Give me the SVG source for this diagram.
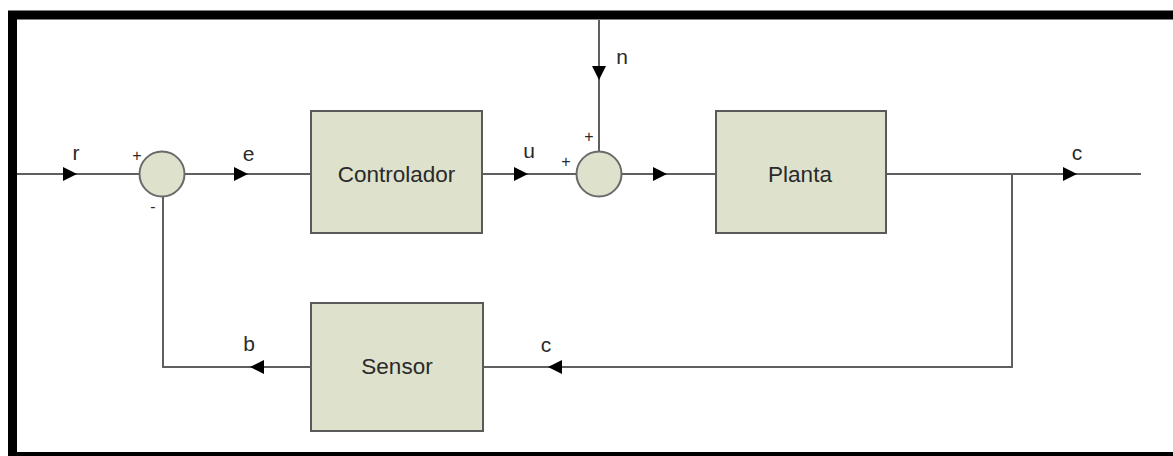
<svg xmlns="http://www.w3.org/2000/svg" width="1173" height="456" viewBox="0 0 1173 456">
  <defs>
    <style>
      .blk { fill: #dee1cb; stroke: #5a5a5a; stroke-width: 2; }
      .sum { fill: #dee1cb; stroke: #6a6a6a; stroke-width: 2; }
      .wire { fill: none; stroke: #5f5f5f; stroke-width: 2; }
      .lbl { font-family: "Liberation Sans", Arial, sans-serif; font-size: 22.5px; fill: #2a2a2a; text-anchor: middle; }
      .sig { font-family: "Liberation Sans", Arial, sans-serif; font-size: 21px; fill: #2a2a2a; text-anchor: middle; }
      .sgn { font-family: "Liberation Sans", Arial, sans-serif; font-size: 16px; fill: #2a2a2a; text-anchor: middle; }
      .ah { fill: #000000; }
    </style>
  </defs>
  <rect width="1173" height="456" fill="#ffffff"/>
  <rect x="12.5" y="15" width="1200" height="441.5" fill="none" stroke="#000000" stroke-width="9"/>

  <g id="connectors">
    <path class="wire" d="M17 174 H140"/>
    <path class="wire" d="M185 174 H311"/>
    <path class="wire" d="M482 174 H577"/>
    <path class="wire" d="M599 20 V151"/>
    <path class="wire" d="M621 174 H716"/>
    <path class="wire" d="M886 174 H1141"/>
    <path class="wire" d="M1012 174 V367 H483"/>
    <path class="wire" d="M311 367 H163 V197"/>
    <polygon class="ah" points="63,167 77,174 63,181"/>
    <polygon class="ah" points="234,167 248,174 234,181"/>
    <polygon class="ah" points="514,167 528,174 514,181"/>
    <polygon class="ah" points="592,66 606,66 599,80"/>
    <polygon class="ah" points="653,167 667,174 653,181"/>
    <polygon class="ah" points="1063,167 1077,174 1063,181"/>
    <polygon class="ah" points="562,360 548,367 562,374"/>
    <polygon class="ah" points="264,360 250,367 264,374"/>
    <text class="sig" x="76" y="160">r</text>
    <text class="sig" x="248.5" y="161">e</text>
    <text class="sig" x="529" y="158">u</text>
    <text class="sig" x="622" y="64">n</text>
    <text class="sig" x="1077" y="160">c</text>
    <text class="sig" x="249" y="351">b</text>
    <text class="sig" x="546" y="352">c</text>
  </g>

  <g id="sum1">
    <circle class="sum" cx="162" cy="174" r="22.5"/>
    <text class="sgn" x="137" y="161">+</text>
    <text class="sgn" x="153" y="212">-</text>
  </g>

  <g id="controlador">
    <rect class="blk" x="311" y="111" width="171" height="122"/>
    <text class="lbl" x="396.5" y="182">Controlador</text>
  </g>

  <g id="sum2">
    <circle class="sum" cx="599" cy="174" r="22.5"/>
    <text class="sgn" x="589" y="142">+</text>
    <text class="sgn" x="566" y="167">+</text>
  </g>

  <g id="planta">
    <rect class="blk" x="716" y="111" width="170" height="122"/>
    <text class="lbl" x="800" y="182">Planta</text>
  </g>

  <g id="sensor">
    <rect class="blk" x="311" y="303" width="172" height="128"/>
    <text class="lbl" x="397" y="374">Sensor</text>
  </g>
</svg>
